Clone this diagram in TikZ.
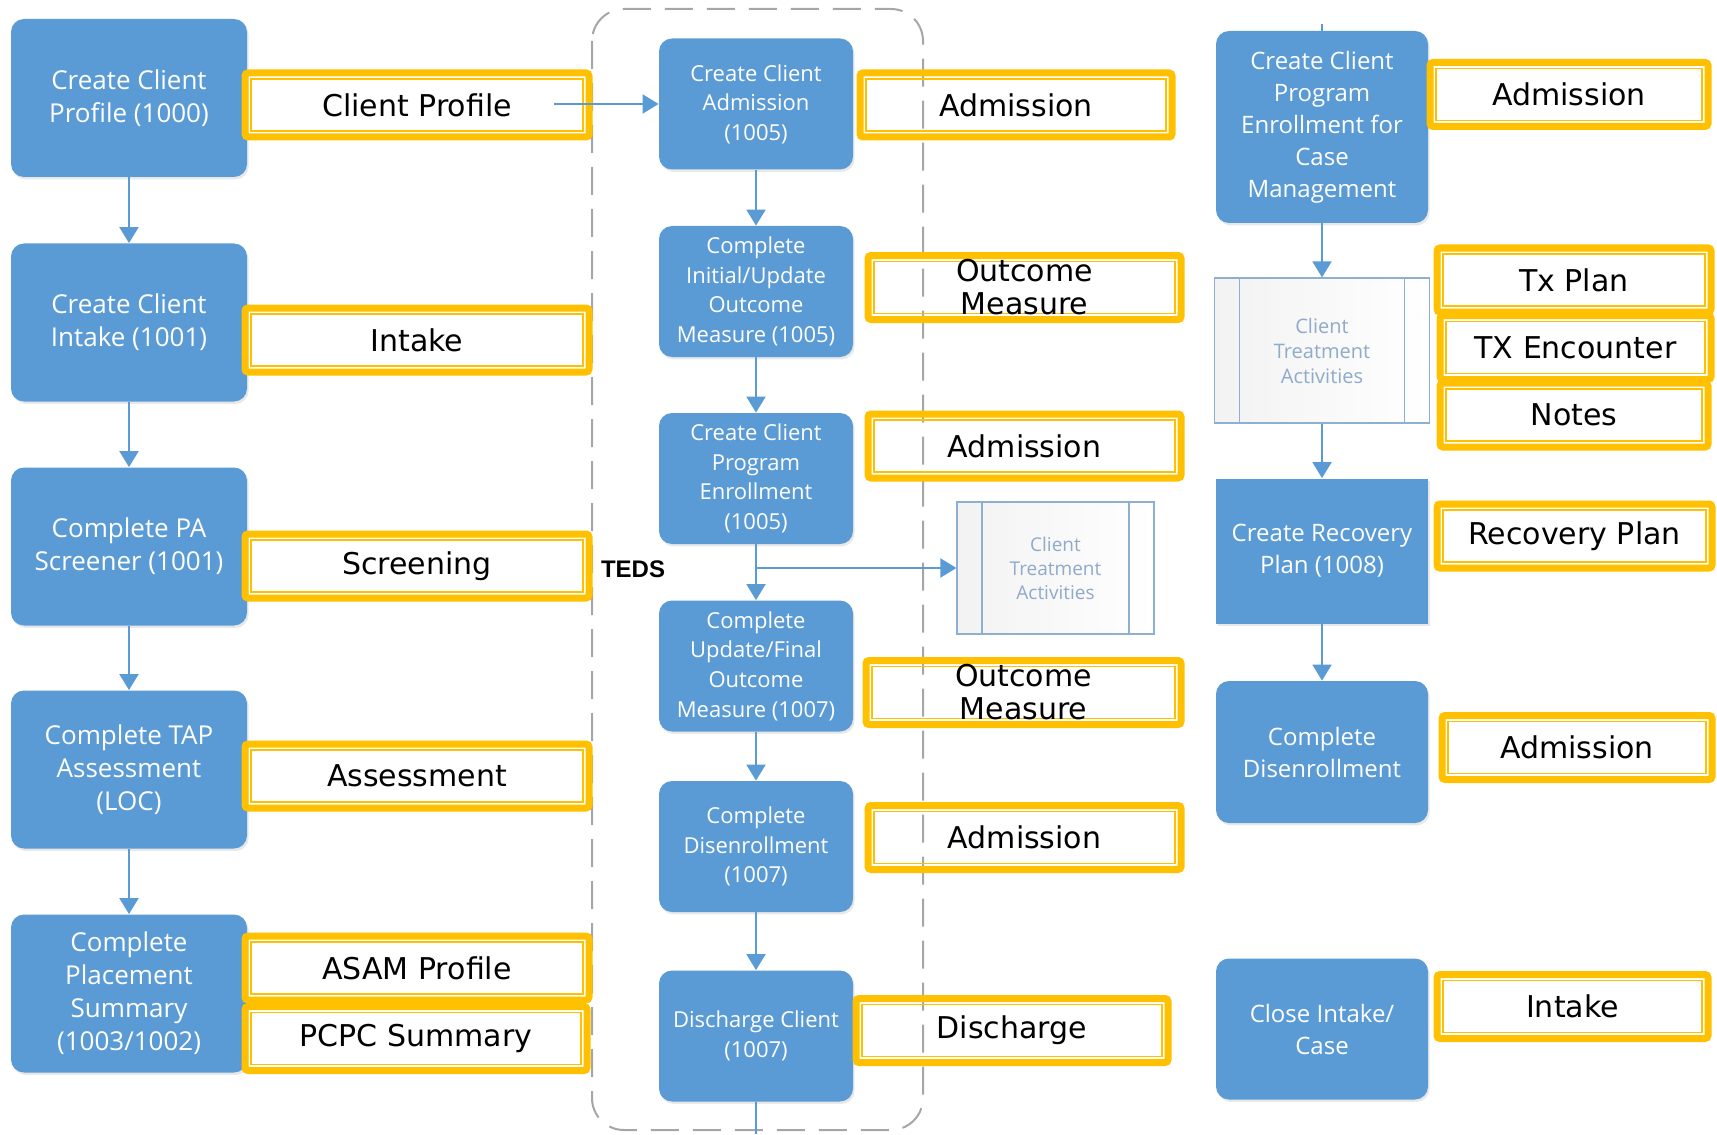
\documentclass[tikz,border=0pt]{standalone}
\usepackage{fontspec}
\setmainfont{DejaVu Sans}
\newfontfamily\boxfont{Open Sans}
\newfontfamily\lblfont{DejaVu Sans}
\newfontfamily\tedsfont{Liberation Sans}
\usetikzlibrary{arrows.meta,shadows}
\definecolor{bluebox}{HTML}{5B9BD5}
\definecolor{ylw}{HTML}{FFC000}
\definecolor{dashgray}{HTML}{A6A6A6}
\definecolor{subtxt}{HTML}{8FAACB}
\definecolor{subline}{HTML}{8EAED3}
\begin{document}
\begin{tikzpicture}[x=0.5pt,y=-0.5pt,
  blueboxbase/.style={fill=bluebox, text=white, align=center, inner sep=2pt,
    drop shadow={opacity=0.18, shadow xshift=0.8pt, shadow yshift=-1.2pt}},
  lbox/.style={blueboxbase, rounded corners=6.5pt, minimum width=118pt, minimum height=79pt,
    font=\boxfont\fontsize{13}{16.5}\selectfont},
  mbox/.style={blueboxbase, rounded corners=6.5pt, minimum width=97pt, minimum height=65.5pt,
    font=\boxfont\fontsize{11}{14.8}\selectfont},
  rbox/.style={blueboxbase, rounded corners=6.5pt, minimum width=106pt, minimum height=#1,
    font=\boxfont\fontsize{12}{16}\selectfont},
  rsqbox/.style={blueboxbase, minimum width=106pt, minimum height=#1,
    font=\boxfont\fontsize{12}{16}\selectfont},
  ylabel/.style={draw=ylw, line width=3.5pt, rounded corners=1.5pt, minimum width=#1,
    minimum height=32pt, inner sep=0pt, text=black,
    font=\lblfont\fontsize{15}{16.5}\selectfont,
    path picture={\draw[ylw, line width=0.8pt, sharp corners]
      ([shift={(3pt,3pt)}]path picture bounding box.south west) rectangle
      ([shift={(-3pt,-3pt)}]path picture bounding box.north east);}},
  lbltext/.style={text=black, align=center, inner sep=0pt,
    font=\lblfont\fontsize{15}{16.5}\selectfont},
  subp/.style={draw=subline, line width=0.6pt, left color=black!5, right color=white,
    text=subtxt, align=center, font=\boxfont\fontsize{9.5}{12}\selectfont,
    minimum width=#1,
    path picture={\draw[subline, line width=0.6pt]
      ([xshift=12.5pt]path picture bounding box.north west) --
      ([xshift=12.5pt]path picture bounding box.south west);
      \draw[subline, line width=0.6pt]
      ([xshift=-12.5pt]path picture bounding box.north east) --
      ([xshift=-12.5pt]path picture bounding box.south east);}},
  arr/.style={draw=bluebox, line width=1pt, -{Triangle[width=9.5pt,length=8pt]}},
  plainline/.style={draw=bluebox, line width=1pt}
]
\useasboundingbox (0,0) rectangle (1717,1134);

% dashed TEDS region
\draw[dashgray, line width=1pt, dash pattern=on 14pt off 7pt, rounded corners=16pt]
  (592,9) rectangle (923,1130);
\node (teds) at (633,569) {\tedsfont\bfseries\fontsize{12}{14}\selectfont TEDS};

% left column
\node[lbox] (L1) at (129,98) {Create Client\\Profile (1000)};
\node[lbox] (L2) at (129,322.5) {Create Client\\Intake (1001)};
\node[lbox] (L3) at (129,546.5) {Complete PA\\Screener (1001)};
\node[lbox] (L4) at (129,769.5) {Complete TAP\\Assessment\\(LOC)};
\node[lbox] (L5) at (129,993.5) {Complete\\Placement\\Summary\\(1003/1002)};

\node[ylabel=172pt] (cp) at (417,105) {Client Profile};
\node[ylabel=172pt] (intk) at (417,340) {Intake};
\node[ylabel=172pt] (scr) at (417,566) {Screening};
\node[ylabel=172pt] (ass) at (417,776) {Assessment};
\node[ylabel=172pt] (asam) at (417,968) {ASAM Profile};
\node[ylabel=171pt] (pcpc) at (416,1038.5) {PCPC Summary};

% middle column
\node[mbox] (M1) at (756,104) {Create Client\\Admission\\(1005)};
\node[mbox] (M2) at (756,291.5) {Complete\\Initial/Update\\Outcome\\Measure (1005)};
\node[mbox] (M3) at (756,478.5) {Create Client\\Program\\Enrollment\\(1005)};
\node[mbox] (M4) at (756,666) {Complete\\Update/Final\\Outcome\\Measure (1007)};
\node[mbox] (M5) at (756,846.5) {Complete\\Disenrollment\\(1007)};
\node[mbox] (M6) at (756,1036) {Discharge Client\\(1007)};

\node[ylabel=156pt] (adm1) at (1016,105) {Admission};
\node[ylabel=156.5pt] (om1) at (1024.5,287.5) {};
\node[lbltext] (om1t) at (1024.5,287.5) {Outcome\\Measure};
\node[ylabel=156.5pt] (adm2) at (1024.5,446) {Admission};
\node[subp=98.5pt, minimum height=66pt] (sub1) at (1055.5,568) {Client\\Treatment\\Activities};
\node[ylabel=157.5pt] (om2) at (1023.5,692.5) {};
\node[lbltext] (om2t) at (1023.5,692.5) {Outcome\\Measure};
\node[ylabel=156.5pt] (adm3) at (1024.5,837.5) {Admission};
\node[ylabel=156pt] (dis) at (1012,1030.5) {Discharge};

% right column
\node[rbox=96pt] (R1) at (1322,127) {Create Client\\Program\\Enrollment for\\Case\\Management};
\node[subp=107.5pt, minimum height=72.5pt, font=\boxfont\fontsize{10}{12.5}\selectfont] (R2) at (1322,350.5) {Client\\Treatment\\Activities};
\node[rsqbox=72.5pt] (R3) at (1322,551) {Create Recovery\\Plan (1008)};
\node[rbox=71pt] (R4) at (1322,752) {Complete\\Disenrollment};
\node[rbox=70.5pt] (R5) at (1322,1029) {Close Intake/\\Case};

\node[ylabel=139pt] (radm1) at (1569,94.5) {Admission};
\node[ylabel=137pt] (txp) at (1574,280) {Tx Plan};
\node[ylabel=135.5pt] (txe) at (1575.5,347.5) {TX Encounter};
\node[ylabel=134pt] (nts) at (1574,415) {Notes};
\node[ylabel=137.5pt] (rcp) at (1574.5,536) {Recovery Plan};
\node[ylabel=135pt] (radm2) at (1577,747.5) {Admission};
\node[ylabel=135.5pt] (rint) at (1572.5,1006.5) {Intake};

% connectors
\draw[arr] (L1) -- (L2);
\draw[arr] (L2) -- (L3);
\draw[arr] (L3) -- (L4);
\draw[arr] (L4) -- (L5);

\coordinate (cpstart) at (554,104);
\draw[arr] (cpstart) -- (M1.west);

\draw[arr] (M1) -- (M2);
\draw[arr] (M2) -- (M3);
\draw[arr] (M3) -- (M4);
\coordinate (junc) at (756,568);
\draw[arr] (junc) -- (sub1.west);
\draw[arr] (M4) -- (M5);
\draw[arr] (M5) -- (M6);
\coordinate (bottomend) at (756,1134);
\draw[plainline] (M6) -- (bottomend);

\coordinate (stubtop) at (1322,24);
\draw[plainline, line width=0.6pt] (R1.north) -- (stubtop);
\draw[arr] (R1) -- (R2);
\draw[arr] (R2) -- (R3);
\draw[arr] (R3) -- (R4);
\end{tikzpicture}
\end{document}
